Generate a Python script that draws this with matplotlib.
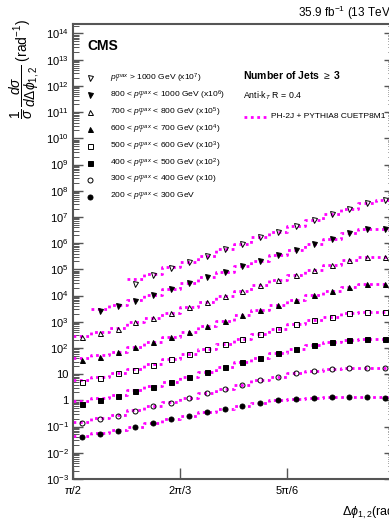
import matplotlib
matplotlib.use("Agg")
import matplotlib.pyplot as plt
import numpy as np
from matplotlib.ticker import FixedLocator, LogLocator, NullFormatter

plt.rcParams["font.family"] = ["Liberation Sans", "DejaVu Sans"]
plt.rcParams["mathtext.fontset"] = "custom"
plt.rcParams["mathtext.rm"] = "Liberation Sans"
plt.rcParams["mathtext.it"] = "Liberation Sans:italic"
plt.rcParams["mathtext.bf"] = "Liberation Sans:bold"

# 18 bins of pi/36 between pi/2 and pi
edges = np.linspace(np.pi / 2, np.pi, 19)
centers = 0.5 * (edges[1:] + edges[:-1])
nan = np.nan

# normalised data (unscaled), one array per pT^max slice
data_200 = [0.0411, 0.0508, 0.0697, 0.0940, 0.134, 0.190, 0.254, 0.361, 0.482,
            0.628, 0.817, 1.007, 1.16, 1.20, 1.35, 1.35, 1.35, 1.26]
data_300 = [0.0134, 0.0195, 0.0261, 0.0405, 0.0611, 0.0817, 0.127, 0.197, 0.272,
            0.387, 0.601, 0.804, 1.08, 1.32, 1.62, 1.77, 1.77, 1.77]
data_400 = [0.0071, 0.0104, 0.0147, 0.0229, 0.0333, 0.0518, 0.0804, 0.124, 0.193,
            0.284, 0.427, 0.627, 0.94, 1.26, 1.74, 2.02, 2.26, 2.14]
data_500 = [0.00518, 0.00697, 0.0108, 0.0145, 0.0224, 0.0371, 0.0575, 0.0891, 0.142,
            0.219, 0.339, 0.531, 0.804, 1.175, 1.567, 2.09, 2.43, 2.43]
data_600 = [0.00347, 0.00466, 0.00686, 0.0106, 0.0170, 0.0269, 0.0417, 0.0692, 0.107,
            0.182, 0.282, 0.437, 0.676, 1.047, 1.54, 2.19, 2.69, 2.69]
data_700 = [0.00251, 0.00363, 0.00525, 0.00955, 0.0135, 0.0209, 0.0372, 0.0575, 0.0933,
            0.155, 0.245, 0.398, 0.617, 0.955, 1.479, 2.24, 2.88, 2.88]
data_800 = [nan, 0.00263, 0.00407, 0.00631, 0.0105, 0.0178, 0.0295, 0.0501, 0.0813,
            0.135, 0.214, 0.355, 0.550, 0.933, 1.445, 2.40, 3.39, 3.55]
data_1000 = [nan, nan, nan, 0.00275, 0.00617, 0.0117, 0.0191, 0.0331, 0.0575,
             0.0955, 0.166, 0.269, 0.457, 0.741, 1.259, 2.04, 3.55, 4.27]

# PH-2J + PYTHIA8 prediction
mc_200 = [0.045, 0.055, 0.073, 0.097, 0.135, 0.19, 0.255, 0.36, 0.48,
          0.63, 0.81, 1.0, 1.15, 1.22, 1.33, 1.35, 1.35, 1.30]
mc_300 = [0.0155, 0.021, 0.028, 0.042, 0.062, 0.083, 0.127, 0.195, 0.27,
          0.385, 0.59, 0.80, 1.07, 1.32, 1.60, 1.75, 1.78, 1.78]
mc_400 = [0.0098, 0.0125, 0.016, 0.024, 0.034, 0.052, 0.081, 0.124, 0.19,
          0.285, 0.43, 0.62, 0.93, 1.25, 1.72, 2.0, 2.22, 2.2]
mc_500 = [0.0058, 0.0077, 0.0113, 0.0155, 0.0235, 0.037, 0.057, 0.088, 0.14,
          0.218, 0.34, 0.53, 0.80, 1.17, 1.56, 2.07, 2.42, 2.45]
mc_600 = [0.0041, 0.0052, 0.0072, 0.011, 0.0172, 0.027, 0.042, 0.068, 0.107,
          0.18, 0.28, 0.435, 0.67, 1.04, 1.54, 2.17, 2.68, 2.7]
mc_700 = [0.0028, 0.0039, 0.0056, 0.0098, 0.0138, 0.021, 0.037, 0.057, 0.093,
          0.155, 0.245, 0.40, 0.62, 0.95, 1.47, 2.22, 2.85, 2.9]
mc_800 = [nan, 0.0030, 0.0043, 0.0065, 0.0107, 0.018, 0.0295, 0.050, 0.081,
          0.135, 0.213, 0.355, 0.55, 0.93, 1.44, 2.38, 3.35, 3.55]
mc_1000 = [nan, nan, nan, 0.0042, 0.0065, 0.0118, 0.0195, 0.0335, 0.058,
           0.0955, 0.166, 0.27, 0.455, 0.74, 1.25, 2.05, 3.5, 4.3]

labels = [
    r"$p_{T}^{max}$ > 1000 GeV (x10$^{7}$)",
    r"800 < $p_{T}^{max}$ < 1000 GeV (x10$^{6}$)",
    r"700 < $p_{T}^{max}$ < 800 GeV (x10$^{5}$)",
    r"600 < $p_{T}^{max}$ < 700 GeV (x10$^{4}$)",
    r"500 < $p_{T}^{max}$ < 600 GeV (x10$^{3}$)",
    r"400 < $p_{T}^{max}$ < 500 GeV (x10$^{2}$)",
    r"300 < $p_{T}^{max}$ < 400 GeV (x10)",
    r"200 < $p_{T}^{max}$ < 300 GeV",
]
scales = [1e7, 1e6, 1e5, 1e4, 1e3, 1e2, 1e1, 1.0]
data = [data_1000, data_800, data_700, data_600, data_500, data_400, data_300, data_200]
mc = [mc_1000, mc_800, mc_700, mc_600, mc_500, mc_400, mc_300, mc_200]
markers = ["v", "v", "^", "^", "s", "s", "o", "o"]
filled = [False, True, False, True, False, True, False, True]

GRAY = "#555555"
MAG = "#ff00ff"

fig = plt.figure(figsize=(3.89, 5.26), dpi=100)
# axes run past the right edge of the picture (pi sits just outside, as in the reference)
ax = fig.add_axes([73 / 389, 1 - 479 / 526, 321 / 389, 455 / 526])

for d, m, s, mk, fl in zip(data, mc, scales, markers, filled):
    d = np.asarray(d) * s
    m = np.asarray(m) * s
    i0 = np.where(np.isfinite(m))[0][0]
    ax.step(edges[i0:], np.r_[m[i0:], m[-1]], where="post", color=MAG, lw=2.0,
            ls=(0, (1, 1.3)), zorder=2)
    ax.plot(centers, d, ls="none", marker=mk, ms=3.6, mew=0.7, color="black",
            mfc="black" if fl else "none", zorder=3)

ax.set_yscale("log")
ax.set_xlim(np.pi / 2, np.pi)
ax.set_ylim(1e-3, 2.3e14)

ax.set_xticks([np.pi / 2, 2 * np.pi / 3, 5 * np.pi / 6])
ax.set_xticklabels(["π/2", "2π/3", "5π/6"], fontsize=8)
ax.tick_params(axis="x", which="major", direction="in", length=8, width=1.0,
               color=GRAY, pad=5)
ax.tick_params(axis="x", which="minor", bottom=False, top=False)

decades = np.arange(-3, 15)
ax.yaxis.set_major_locator(FixedLocator(10.0 ** decades))
ylabs = ["1" if n == 0 else "10" if n == 1 else r"$10^{%d}$" % n for n in decades]
ax.set_yticklabels(ylabs, fontsize=8)
ax.yaxis.set_minor_locator(LogLocator(base=10, subs=np.arange(2, 10), numticks=100))
ax.yaxis.set_minor_formatter(NullFormatter())
ax.tick_params(axis="y", which="major", direction="in", length=7, width=1.0,
               color=GRAY, left=True, right=True, pad=3)
ax.tick_params(axis="y", which="minor", direction="in", length=4, width=0.7,
               color=GRAY, left=True, right=True)
for sp in ax.spines.values():
    sp.set_color(GRAY)
    sp.set_linewidth(1.5)

# legend drawn by hand, CMS style
row0, drow = (479 - 78) / 455, 17 / 455
for i, (lab, mk, fl) in enumerate(zip(labels, markers, filled)):
    y = row0 - i * drow
    ax.plot([0.053], [y], transform=ax.transAxes, marker=mk, ms=3.6, mew=0.7,
            color="black", mfc="black" if fl else "none", clip_on=False)
    ax.text(0.115, y, lab, transform=ax.transAxes, fontsize=6.1, va="center", ha="left")

ax.text(0.044, 0.952, "CMS", transform=ax.transAxes, fontsize=10, fontweight="bold",
        va="center", ha="left")
ax.text(0.53, 0.888, r"Number of Jets $\geq$ 3", transform=ax.transAxes, fontsize=7.5,
        fontweight="bold", va="center", ha="left")
ax.text(0.53, 0.842, r"Anti-k$_{T}$ R = 0.4", transform=ax.transAxes, fontsize=6.3,
        va="center", ha="left")
ax.plot([0.533, 0.605], [0.796, 0.796], transform=ax.transAxes, color=MAG, lw=2.0,
        ls=(0, (1, 1.3)), clip_on=False)
ax.text(0.617, 0.796, "PH-2J + PYTHIA8 CUETP8M1", transform=ax.transAxes, fontsize=6,
        va="center", ha="left")

ax.text(1.0, 1.025, r"35.9 fb$^{-1}$ (13 TeV)", transform=ax.transAxes, fontsize=8.5,
        va="center", ha="right")
ax.text(1.015, -0.075, r"$\Delta\phi_{1,2}$(rad)", transform=ax.transAxes, fontsize=9,
        va="center", ha="right")
ax.text(-0.15, 1.01, r"$\dfrac{1}{\sigma}\,\dfrac{d\sigma}{d\Delta\phi_{1,2}}$ (rad$^{-1}$)",
        transform=ax.transAxes, fontsize=10, rotation=90, va="top", ha="center")

fig.savefig("out.png", dpi=100)
